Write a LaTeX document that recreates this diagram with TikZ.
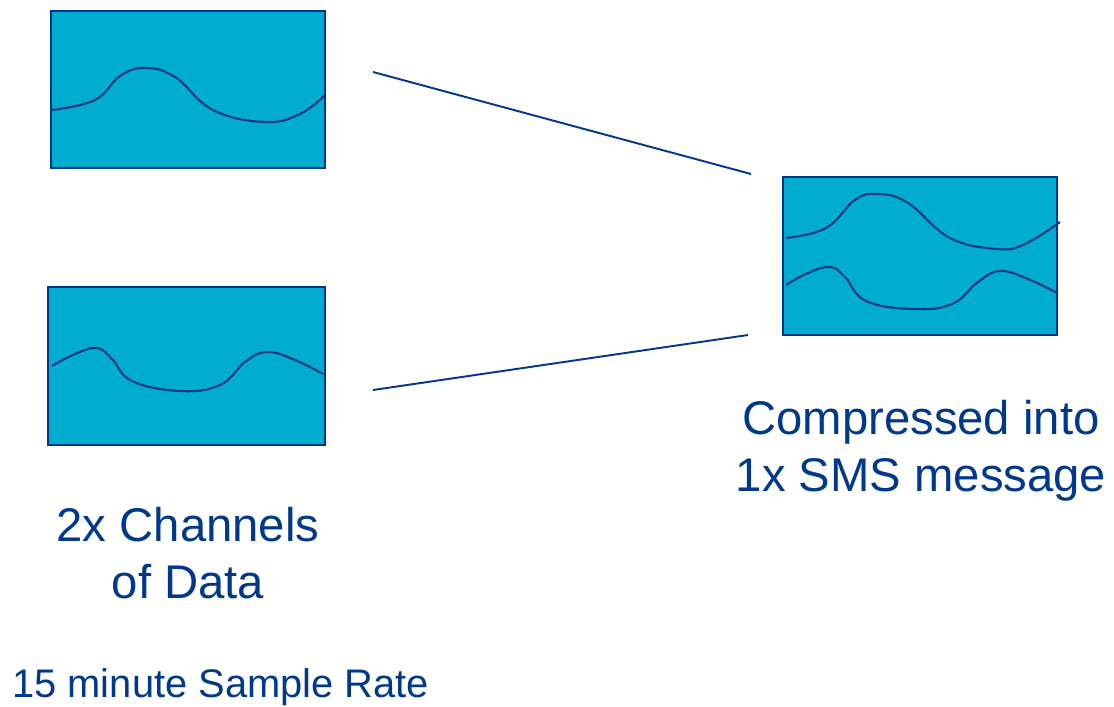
\documentclass[tikz,border=0pt]{standalone}
\usepackage{fontspec}
\setmainfont{Liberation Sans}
\usepackage{xcolor}
\usetikzlibrary{positioning}
\definecolor{scopefill}{RGB}{0,173,208}
\definecolor{navy}{RGB}{0,56,140}

\begin{document}
\begin{tikzpicture}[
    x=0.02cm, y=-0.02cm,   % one unit per pixel, y going down
    scopebox/.style = {draw=navy, line width=1.1pt, fill=scopefill, inner sep=0pt},
    trace/.style = {navy, line width=1.2pt, smooth, tension=0.7},
    link/.style = {navy, line width=1.1pt},
    bigtext/.style = {text=navy, align=center, font=\fontsize{26.9}{32.3}\selectfont},
    smalltext/.style = {text=navy, font=\fontsize{22.7}{27}\selectfont}
  ]
    \useasboundingbox (0,0) rectangle (1114,706);

    % the two input channels and the packed message
    \node[scopebox, minimum width=5.48cm, minimum height=3.14cm] (ch1) at (188,89.5) {};
    \node[scopebox, minimum width=5.54cm, minimum height=3.16cm] (ch2) at (186.5,366) {};
    \node[scopebox, minimum width=5.48cm, minimum height=3.16cm] (sms) at (920,256) {};

    % traces
    \draw[trace] plot coordinates {(52,110) (95,100) (120,76) (145,68) (175,77) (213,110) (265,122) (300,114) (325,95)};
    \draw[trace] plot coordinates {(52,366) (75,354) (97,348) (112,359) (132,381) (180,391) (220,385) (245,362) (267,352) (295,360) (323,374)};
    \draw[trace] plot coordinates {(786,238) (826,228) (855,200) (878,194) (908,203) (950,238) (998,249) (1025,244) (1060,222)};
    \draw[trace] plot coordinates {(786,285) (808,273) (830,267) (845,277) (866,301) (913,309) (952,304) (978,282) (1000,271) (1028,279) (1057,293)};

    % link ends sit a little off the boxes
    \coordinate (out1) at (373,72);
    \coordinate (out2) at (373,390);
    \coordinate (in1) at (751,174);
    \coordinate (in2) at (748,335);
    \draw[link] (out1) -- (in1);
    \draw[link] (out2) -- (in2);

    \node[bigtext, anchor=base] (lblin) at (188,598) {2x Channels\\of Data};
    \node[bigtext, anchor=base] (lblout) at (921,491) {Compressed into\\1x SMS message};
    \node[smalltext, anchor=base west, inner sep=0pt] (lblrate) at (12,697) {15 minute Sample Rate};
\end{tikzpicture}
\end{document}
